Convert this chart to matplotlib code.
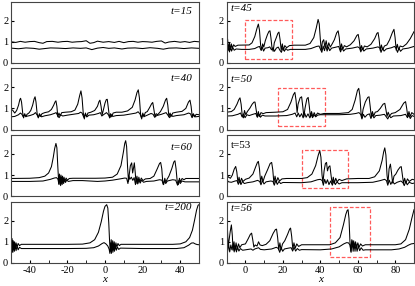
import numpy as np
import matplotlib
matplotlib.use("Agg")
import matplotlib.pyplot as plt
from matplotlib.patches import Rectangle

plt.rcParams["font.family"] = ["Liberation Serif", "DejaVu Serif"]
plt.rcParams["axes.unicode_minus"] = False

# ── Data: (x, y) knots per curve ─────────────────────────────────────────────
# A = upper curve (large pulses), B = lower curve

T15_A = [(-50, 1.0), (-47.5, 0.97), (-45, 1.02), (-42.5, 0.98), (-40, 1.01), (-37.5, 1.02),
         (-35, 0.96), (-33, 0.93), (-31, 1.01), (-28, 1.02), (-25, 0.98), (-22.5, 1.01),
         (-20, 1.02), (-17.5, 0.98), (-15, 1.0), (-12.5, 1.01), (-10, 1.05), (-8, 0.93),
         (-6, 0.96), (-4, 1.03), (-1, 0.98), (2, 1.01), (5, 0.97), (7.5, 1.02), (10, 0.96),
         (12.5, 1.01), (15, 1.02), (17.5, 0.98), (20, 1.01), (22.5, 1.0), (25, 0.98),
         (27.5, 1.02), (30, 1.04), (32, 0.94), (34, 0.99), (37, 1.02), (40, 0.98),
         (42.5, 1.01), (45, 0.97), (47.5, 1.02), (50, 1.0)]
T15_B = [(-50, 0.7), (-46, 0.67), (-42, 0.71), (-38, 0.69), (-35, 0.65), (-32, 0.68),
         (-29, 0.71), (-25, 0.7), (-21, 0.68), (-17, 0.71), (-13, 0.69), (-10, 0.71),
         (-7, 0.63), (-4, 0.7), (-1, 0.73), (2, 0.69), (5, 0.71), (9, 0.66), (12, 0.7),
         (16, 0.71), (20, 0.68), (24, 0.72), (28, 0.69), (31, 0.65), (34, 0.7), (38, 0.71),
         (42, 0.68), (46, 0.71), (50, 0.69)]

T40_A = [(-50, 0.97), (-49, 0.9), (-48, 0.78), (-47, 0.9), (-46, 1.15), (-45.3, 1.42),
         (-44.9, 1.48), (-44.4, 1.3), (-43.8, 0.8), (-43.3, 0.55), (-42.7, 0.75),
         (-42.1, 0.6), (-41.5, 0.72), (-40.5, 0.78), (-39.5, 0.9), (-38.5, 1.15),
         (-37.7, 1.45), (-37.2, 1.55), (-36.7, 1.3), (-36.1, 0.75), (-35.5, 0.55),
         (-34.9, 0.75), (-34.3, 0.62), (-33.5, 0.75), (-32, 0.8), (-30, 0.84), (-28.5, 0.95),
         (-27.3, 1.15), (-26.6, 1.3), (-26.1, 1.36), (-25.6, 1.1), (-25.1, 0.6),
         (-24.5, 0.78), (-23.9, 0.65), (-23, 0.8), (-21, 0.82), (-18, 0.84), (-16, 0.92),
         (-14.5, 1.2), (-13.5, 1.6), (-12.8, 1.83), (-12.2, 1.5), (-11.6, 0.8), (-11, 0.5),
         (-10.4, 0.78), (-9.8, 0.6), (-9.1, 0.78), (-7.5, 0.82), (-5.5, 0.9), (-4, 1.1),
         (-3.2, 1.32), (-2.7, 1.39), (-2.1, 1.1), (-1.5, 0.7), (-0.8, 0.95), (0, 1.25),
         (0.7, 1.42), (1.2, 1.43), (1.8, 1.0), (2.4, 0.55), (3, 0.75), (3.6, 0.6),
         (4.3, 0.78), (6, 0.82), (9, 0.82), (12, 0.88), (14.5, 1.05), (16, 1.4), (17, 1.75),
         (17.7, 1.88), (18.3, 1.5), (18.9, 0.75), (19.5, 0.5), (20.1, 0.78), (20.7, 0.6),
         (21.4, 0.8), (22.5, 0.85), (23.8, 1.05), (24.8, 1.22), (25.4, 1.28), (26, 0.95),
         (26.6, 0.6), (27.2, 0.75), (28, 0.7), (29.5, 0.85), (31, 1.1), (32.2, 1.4),
         (32.8, 1.48), (33.4, 1.15), (34, 0.6), (34.6, 0.78), (35.2, 0.62), (36, 0.78),
         (38, 0.82), (41, 0.86), (43, 1.0), (44.4, 1.3), (45.2, 1.39), (45.8, 1.1),
         (46.4, 0.6), (47, 0.75), (47.6, 0.6), (48.5, 0.72), (50, 0.7)]
T40_B = [(-50, 0.6), (-48, 0.62), (-46, 0.7), (-45, 0.78), (-44.2, 0.72), (-43.5, 0.6),
         (-42.8, 0.7), (-42, 0.62), (-40, 0.66), (-38, 0.72), (-37, 0.8), (-36.2, 0.7),
         (-35.4, 0.58), (-34.6, 0.7), (-33.8, 0.6), (-32, 0.65), (-29, 0.7), (-27, 0.76),
         (-26, 0.8), (-25.2, 0.66), (-24.4, 0.56), (-23.6, 0.7), (-22.5, 0.64), (-20, 0.68),
         (-17, 0.72), (-14, 0.76), (-13, 0.82), (-12.2, 0.78), (-11.3, 0.58), (-10.5, 0.72),
         (-9.6, 0.6), (-8.5, 0.68), (-6, 0.7), (-3.5, 0.76), (-2.5, 0.8), (-1.7, 0.64),
         (-0.5, 0.72), (0.8, 0.8), (1.8, 0.7), (2.6, 0.56), (3.4, 0.7), (4.2, 0.62),
         (6, 0.66), (10, 0.68), (14, 0.74), (16.5, 0.78), (17.6, 0.84), (18.6, 0.74),
         (19.4, 0.56), (20.2, 0.7), (21, 0.62), (22.5, 0.68), (24.5, 0.76), (25.6, 0.72),
         (26.4, 0.58), (27.5, 0.66), (30, 0.72), (32.5, 0.8), (33.6, 0.66), (34.4, 0.56),
         (35.2, 0.7), (36, 0.62), (38, 0.66), (42, 0.7), (44.5, 0.78), (45.5, 0.74),
         (46.3, 0.56), (47.2, 0.7), (48, 0.6), (50, 0.62)]

T60_A = [(-50, 0.84), (-40, 0.85), (-35, 0.88), (-32, 0.95), (-30, 1.1), (-28.5, 1.4),
         (-27.5, 1.85), (-26.8, 2.25), (-26.1, 2.5), (-25.6, 2.3), (-25.1, 1.4), (-24.6, 0.6),
         (-24.2, 1.05), (-23.8, 0.55), (-23.4, 1.0), (-23, 0.6), (-22.6, 0.95), (-22.2, 0.65),
         (-21.8, 0.9), (-21.3, 0.7), (-20.7, 0.86), (-20, 0.76), (-19, 0.84), (-17, 0.85),
         (-5, 0.85), (0, 0.86), (4, 0.9), (6.5, 1.05), (8.5, 1.45), (9.8, 2.1), (10.5, 2.5),
         (11.0, 2.63), (11.5, 2.35), (12, 1.4), (12.5, 0.7), (13, 1.1), (13.5, 1.45),
         (14.2, 1.58), (14.7, 1.1), (15.1, 1.3), (15.6, 1.58), (16.1, 1.1), (16.5, 0.6),
         (17, 0.95), (17.5, 0.62), (18, 0.9), (18.6, 0.68), (19.3, 0.86), (20.2, 0.74),
         (21.5, 0.82), (24, 0.84), (26, 0.95), (27.8, 1.3), (29, 1.55), (29.6, 1.6),
         (30.2, 1.3), (30.7, 0.7), (31.2, 0.55), (31.8, 0.85), (32.4, 0.65), (33, 0.8),
         (34, 0.95), (35.5, 1.3), (36.6, 1.62), (37.2, 1.68), (37.8, 1.3), (38.4, 0.7),
         (39, 0.55), (39.6, 0.85), (40.2, 0.68), (41, 0.84), (42, 0.78), (43, 0.84),
         (50, 0.84)]
T60_B = [(-50, 0.7), (-40, 0.7), (-33, 0.72), (-29, 0.8), (-27, 0.86), (-25.8, 0.88),
         (-25, 0.8), (-24.5, 0.55), (-24, 0.95), (-23.6, 0.5), (-23.2, 0.9), (-22.8, 0.55),
         (-22.4, 0.85), (-22, 0.6), (-21.5, 0.8), (-21, 0.65), (-20.4, 0.76), (-19.5, 0.7),
         (-17, 0.74), (-12, 0.74), (-8, 0.72), (-4, 0.7), (0, 0.72), (4, 0.76), (8, 0.82),
         (10.5, 0.86), (11.5, 0.85), (12.2, 0.6), (12.7, 0.95), (13.2, 0.8), (14, 0.9),
         (14.8, 0.75), (15.5, 0.88), (16.2, 0.55), (16.8, 0.85), (17.4, 0.58), (18, 0.8),
         (18.7, 0.62), (19.5, 0.76), (20.5, 0.66), (22, 0.7), (26, 0.72), (29, 0.78),
         (30.3, 0.76), (31, 0.55), (31.6, 0.75), (32.3, 0.6), (33.2, 0.72), (36, 0.78),
         (37.6, 0.76), (38.6, 0.52), (39.3, 0.75), (40, 0.6), (41, 0.72), (42.5, 0.68),
         (50, 0.68)]

T200_A = [(-50, 1.0), (-49.7, 0.55), (-49.4, 1.15), (-49.1, 0.6), (-48.8, 1.05), (-48.5, 0.65),
          (-48.1, 1.0), (-47.7, 0.7), (-47.3, 0.95), (-46.8, 0.75), (-46.2, 0.92), (-45.5, 0.82),
          (-44.5, 0.88), (-40, 0.88), (-20, 0.88), (-12, 0.89), (-8, 0.95), (-5.5, 1.1),
          (-3.5, 1.45), (-2, 1.95), (-0.8, 2.45), (0, 2.68), (0.9, 2.76), (1.5, 2.6), (2, 1.9),
          (2.5, 0.9), (2.9, 0.55), (3.3, 1.1), (3.7, 0.6), (4.1, 1.05), (4.5, 0.65), (4.9, 1.0),
          (5.3, 0.7), (5.8, 0.95), (6.3, 0.75), (6.9, 0.92), (7.6, 0.82), (8.5, 0.88), (20, 0.88),
          (36, 0.88), (40, 0.9), (43, 1.0), (45, 1.2), (46.5, 1.55), (47.7, 2.05), (48.7, 2.5),
          (49.5, 2.73), (50, 2.76)]
T200_B = [(-50, 0.9), (-49.6, 0.5), (-49.3, 1.05), (-49, 0.5), (-48.6, 0.95), (-48.2, 0.55),
          (-47.8, 0.85), (-47.3, 0.58), (-46.8, 0.8), (-46.2, 0.62), (-45.5, 0.74), (-44.5, 0.68),
          (-40, 0.68), (-20, 0.68), (-10, 0.69), (-6, 0.72), (-3.5, 0.8), (-1.5, 0.92),
          (-0.5, 0.96), (0.5, 0.9), (1.5, 0.8), (2.2, 0.65), (2.6, 0.45), (3, 0.95), (3.4, 0.45),
          (3.8, 0.9), (4.2, 0.5), (4.6, 0.85), (5, 0.55), (5.5, 0.8), (6, 0.6), (6.6, 0.75),
          (7.3, 0.64), (8.2, 0.7), (20, 0.68), (38, 0.68), (42, 0.72), (44.5, 0.84), (46, 0.94),
          (47, 0.95), (48, 0.9), (49, 0.87), (50, 0.86)]

T45_A = [(-10, 1.45), (-9.5, 1.1), (-9, 0.6), (-8.5, 0.95), (-8, 0.62), (-7.5, 0.9), (-7, 0.7),
         (-6.3, 0.86), (-5.5, 0.78), (-4, 0.84), (2, 0.85), (3.5, 0.95), (5, 1.25), (6.2, 1.65),
         (6.9, 1.84), (7.5, 1.55), (8.1, 0.85), (8.6, 0.6), (9.2, 0.9), (9.8, 0.75), (10.6, 1.05),
         (11.8, 1.35), (12.6, 1.5), (13.1, 1.52), (13.6, 1.2), (14.2, 0.7), (14.8, 0.55),
         (15.4, 0.95), (16.5, 1.2), (17.3, 1.4), (17.9, 1.46), (18.5, 1.1), (19.1, 0.6),
         (19.7, 0.9), (20.3, 0.6), (21, 0.82), (22, 0.72), (23.5, 0.82), (26, 0.84), (32, 0.84),
         (34.5, 0.92), (36.5, 1.2), (37.8, 1.65), (38.8, 2.06), (39.4, 1.85), (40, 1.1),
         (40.5, 0.6), (41.1, 1.0), (41.8, 1.1), (42.4, 0.75), (43.1, 1.05), (43.8, 0.7),
         (44.5, 0.95), (45.3, 0.75), (46.3, 0.9), (47.5, 1.1), (48.7, 1.42), (49.5, 1.52),
         (50.1, 1.2), (50.7, 0.62), (51.3, 0.9), (52, 0.65), (52.8, 0.82), (54, 0.76), (56, 0.86),
         (58, 1.05), (59.5, 1.3), (60.2, 1.35), (60.8, 1.05), (61.4, 0.6), (62, 0.82),
         (62.7, 0.62), (63.5, 0.8), (65, 0.76), (67, 0.88), (69, 1.15), (70.2, 1.4), (70.8, 1.44),
         (71.4, 1.1), (72, 0.58), (72.6, 0.85), (73.3, 0.62), (74.2, 0.8), (75.5, 0.85),
         (77, 1.1), (78.5, 1.45), (79.3, 1.59), (79.9, 1.2), (80.5, 0.6), (81.1, 0.88),
         (81.8, 0.62), (82.6, 0.8), (84, 0.76), (86, 0.9), (88, 1.15), (90, 1.48)]
T45_B = [(-10, 0.9), (-9.5, 0.55), (-9, 0.85), (-8.5, 0.52), (-8, 0.78), (-7.4, 0.56),
         (-6.7, 0.72), (-6, 0.6), (-5, 0.66), (-2, 0.64), (2, 0.64), (5, 0.68), (6.5, 0.75),
         (7.5, 0.78), (8.3, 0.6), (9, 0.75), (9.7, 0.56), (10.5, 0.7), (12, 0.72), (13, 0.76),
         (13.9, 0.62), (14.7, 0.72), (15.5, 0.55), (16.5, 0.7), (17.5, 0.75), (18.4, 0.6),
         (19.2, 0.5), (20, 0.72), (20.8, 0.55), (21.6, 0.68), (22.5, 0.6), (24, 0.64), (32, 0.64),
         (35, 0.68), (38, 0.78), (39.3, 0.8), (40.2, 0.62), (40.8, 0.5), (41.5, 0.8), (42.2, 0.58),
         (42.9, 0.82), (43.6, 0.56), (44.3, 0.75), (45, 0.58), (46, 0.7), (48, 0.74), (49.8, 0.78),
         (50.8, 0.52), (51.6, 0.72), (52.4, 0.56), (53.5, 0.66), (57, 0.7), (60, 0.76), (61, 0.7),
         (61.6, 0.52), (62.4, 0.7), (63.2, 0.56), (64.5, 0.66), (68, 0.7), (70.8, 0.76),
         (71.8, 0.7), (72.4, 0.5), (73.2, 0.7), (74, 0.56), (75.2, 0.66), (78, 0.72), (79.6, 0.78),
         (80.5, 0.68), (81.2, 0.5), (82, 0.7), (82.8, 0.55), (84, 0.66), (87, 0.7), (90, 0.78)]

T50_A = [(-10, 0.82), (-7.5, 0.85), (-6, 0.95), (-4.5, 1.2), (-3.5, 1.42), (-2.9, 1.5),
         (-2.3, 1.2), (-1.7, 0.65), (-1.1, 0.55), (-0.5, 0.9), (0.2, 0.7), (1, 0.85), (2.3, 1.0),
         (3.6, 1.2), (4.6, 1.3), (5.1, 1.3), (5.7, 0.95), (6.3, 0.6), (6.9, 0.85), (7.5, 0.62),
         (8.3, 0.8), (9.5, 0.75), (11, 0.8), (16, 0.82), (20, 0.84), (22.5, 0.95), (24.3, 1.3),
         (25.6, 1.65), (26.4, 1.76), (27, 1.4), (27.6, 0.8), (28.1, 1.2), (29.2, 1.5), (30, 1.55),
         (30.6, 1.1), (31.2, 0.6), (31.8, 1.0), (32.8, 1.45), (33.5, 1.52), (34.1, 1.1),
         (34.7, 0.6), (35.3, 0.85), (36, 0.6), (36.7, 0.8), (37.5, 0.64), (38.5, 0.78), (40, 0.72),
         (42, 0.76), (50, 0.76), (55, 0.8), (57, 0.95), (58.6, 1.4), (59.8, 1.85), (60.5, 1.95),
         (61.1, 1.6), (61.7, 0.8), (62.2, 0.55), (62.8, 0.95), (64, 1.3), (65.3, 1.52), (66, 1.55),
         (66.6, 1.1), (67.2, 0.6), (67.8, 0.85), (68.5, 0.64), (69.3, 0.82), (70.5, 0.85),
         (72, 1.0), (73.5, 1.2), (74.4, 1.24), (75, 0.95), (75.6, 0.62), (76.2, 0.82), (77, 0.64),
         (78, 0.76), (80, 0.8), (82.5, 0.95), (84.5, 1.25), (85.5, 1.32), (86.1, 1.0), (86.7, 0.6),
         (87.3, 0.85), (88, 0.62), (88.8, 0.8), (90, 0.72)]
T50_B = [(-10, 0.64), (-7, 0.65), (-4, 0.72), (-2.6, 0.78), (-1.8, 0.6), (-1, 0.74), (-0.2, 0.56),
         (0.8, 0.7), (2, 0.66), (4, 0.72), (5.5, 0.76), (6.4, 0.58), (7.2, 0.72), (8, 0.58),
         (9, 0.68), (10.5, 0.64), (16, 0.64), (22, 0.66), (25, 0.72), (26.5, 0.78), (27.4, 0.6),
         (28.2, 0.78), (29, 0.6), (30, 0.75), (30.8, 0.55), (31.6, 0.78), (32.4, 0.58), (33.4, 0.74),
         (34.4, 0.55), (35.1, 0.72), (35.8, 0.56), (36.6, 0.7), (37.5, 0.6), (38.5, 0.68),
         (40, 0.7), (50, 0.7), (56, 0.72), (59, 0.76), (60.6, 0.8), (61.5, 0.72), (62.2, 0.5),
         (63, 0.72), (63.8, 0.58), (65, 0.7), (66.2, 0.74), (67, 0.52), (67.8, 0.7), (68.6, 0.55),
         (69.6, 0.66), (72, 0.68), (74.2, 0.72), (75.2, 0.6), (76, 0.5), (76.8, 0.66), (77.6, 0.56),
         (79, 0.64), (83, 0.66), (85.5, 0.72), (86.5, 0.56), (87.2, 0.7), (88, 0.52), (89, 0.66),
         (90, 0.62)]

T53_A = [(-10, 1.02), (-9, 0.9), (-8, 0.85), (-7, 1.0), (-6, 1.28), (-5.2, 1.41), (-4.6, 1.15),
         (-4, 0.65), (-3.4, 0.9), (-2.8, 0.62), (-2.1, 0.85), (-1.3, 0.7), (0, 0.8), (2, 0.86),
         (4, 1.05), (5.5, 1.4), (6.4, 1.6), (6.9, 1.65), (7.5, 1.3), (8.1, 0.65), (8.7, 0.95),
         (9.4, 0.7), (10.3, 0.95), (11.8, 1.25), (13.2, 1.55), (14, 1.6), (14.6, 1.25), (15.2, 0.62),
         (15.8, 0.95), (16.5, 0.66), (17.3, 0.88), (18.2, 0.72), (19.5, 0.82), (22, 0.84),
         (30, 0.84), (33, 0.88), (35.5, 1.05), (37.5, 1.45), (38.9, 1.95), (39.7, 2.16),
         (40.3, 1.85), (40.9, 1.0), (41.4, 0.65), (42, 1.2), (42.7, 1.55), (43.3, 1.6), (43.8, 1.2),
         (44.4, 1.38), (45.1, 1.44), (45.7, 1.0), (46.3, 0.6), (46.9, 0.9), (47.5, 0.62),
         (48.2, 0.85), (49, 0.68), (50, 0.8), (51.5, 0.74), (54, 0.82), (60, 0.84), (66, 0.84),
         (69, 0.92), (71.5, 1.2), (73, 1.7), (73.8, 2.1), (74.4, 2.29), (75, 1.95), (75.6, 1.0),
         (76.1, 0.62), (76.7, 1.3), (77.4, 1.52), (78, 1.1), (78.6, 0.62), (79.3, 0.95),
         (80.3, 1.05), (81.5, 1.25), (82.6, 1.38), (83.2, 1.4), (83.8, 1.0), (84.4, 0.6),
         (85, 0.85), (85.7, 0.62), (86.5, 0.82), (87.5, 0.7), (89, 0.8), (90, 0.78)]
T53_B = [(-10, 0.78), (-9, 0.68), (-7.5, 0.66), (-5.5, 0.72), (-4.5, 0.74), (-3.8, 0.56),
         (-3.1, 0.74), (-2.4, 0.55), (-1.6, 0.7), (-0.6, 0.6), (1, 0.64), (4, 0.68), (6.5, 0.75),
         (7.6, 0.7), (8.3, 0.54), (9.1, 0.74), (9.9, 0.58), (11, 0.68), (13.5, 0.72), (14.7, 0.7),
         (15.4, 0.52), (16.2, 0.74), (17, 0.56), (17.9, 0.7), (18.8, 0.6), (20, 0.65), (30, 0.64),
         (35, 0.68), (38.5, 0.78), (40, 0.8), (41, 0.74), (41.6, 0.52), (42.3, 0.8), (43, 0.6),
         (43.8, 0.78), (44.6, 0.55), (45.5, 0.72), (46.4, 0.52), (47.2, 0.72), (48, 0.55),
         (48.9, 0.68), (50, 0.58), (51.5, 0.64), (60, 0.64), (68, 0.66), (72, 0.74), (74.3, 0.8),
         (75.3, 0.74), (76, 0.52), (76.8, 0.76), (77.6, 0.56), (78.5, 0.72), (79.5, 0.58),
         (81, 0.66), (83, 0.72), (84.1, 0.64), (84.8, 0.5), (85.6, 0.7), (86.4, 0.54), (87.4, 0.66),
         (89, 0.6), (90, 0.62)]

T56_A = [(-10, 2.44), (-9.6, 1.6), (-9.2, 0.75), (-8.7, 1.1), (-8.1, 1.5), (-7.5, 1.8), (-7, 1.3),
         (-6.6, 0.6), (-6.1, 1.0), (-5.6, 0.6), (-5, 0.95), (-4.4, 0.65), (-3.7, 0.9), (-3, 0.72),
         (-2, 0.86), (0, 0.9), (1.5, 1.15), (2.6, 1.35), (3.3, 1.41), (3.9, 1.1), (4.5, 0.75),
         (5.2, 0.85), (6.2, 0.8), (7, 1.0), (7.8, 0.85), (9, 0.82), (11, 0.88), (13, 1.05),
         (14.8, 1.4), (16, 1.58), (16.6, 1.6), (17.2, 1.2), (17.8, 0.62), (18.4, 0.95), (19, 0.62),
         (19.8, 0.9), (21, 1.05), (22.5, 1.35), (23.6, 1.6), (24.1, 1.65), (24.7, 1.25),
         (25.3, 0.65), (25.9, 0.95), (26.6, 0.7), (27.4, 0.9), (28.4, 0.78), (30, 0.86), (45, 0.86),
         (48, 0.95), (50.5, 1.2), (52.3, 1.8), (53.6, 2.3), (54.3, 2.48), (54.8, 2.52), (55.3, 2.1),
         (55.8, 1.0), (56.3, 0.55), (56.8, 1.1), (57.3, 0.75), (57.8, 1.05), (58.3, 0.7),
         (58.8, 1.0), (59.4, 0.72), (60, 0.95), (60.7, 0.75), (61.5, 0.9), (62.5, 0.8), (64, 0.86),
         (80, 0.86), (83, 0.9), (85.5, 1.1), (87.5, 1.6), (88.8, 2.1), (90, 2.52)]
T56_B = [(-10, 1.0), (-9.5, 0.55), (-9, 0.9), (-8.4, 0.52), (-7.8, 0.85), (-7.2, 0.62), (-6.6, 0.9),
         (-6, 0.52), (-5.4, 0.8), (-4.8, 0.52), (-4.2, 0.75), (-3.5, 0.56), (-2.7, 0.68),
         (-1.5, 0.6), (0, 0.62), (3, 0.66), (4, 0.6), (5, 0.66), (7, 0.72), (8, 0.64), (10, 0.62),
         (14, 0.66), (16.5, 0.74), (17.6, 0.68), (18.3, 0.5), (19.1, 0.72), (19.9, 0.55),
         (20.8, 0.66), (23, 0.7), (24.4, 0.72), (25.2, 0.56), (26, 0.74), (26.8, 0.56), (27.7, 0.68),
         (28.8, 0.6), (30, 0.63), (40, 0.62), (46, 0.66), (50, 0.76), (52.5, 0.9), (54, 0.96),
         (55, 0.95), (55.8, 0.85), (56.4, 0.5), (57, 1.05), (57.5, 0.55), (58, 0.95), (58.5, 0.55),
         (59, 0.88), (59.6, 0.55), (60.3, 0.8), (61, 0.58), (61.8, 0.72), (62.8, 0.6), (64, 0.62),
         (78, 0.62), (82, 0.66), (85, 0.74), (87, 0.84), (88.5, 0.9), (90, 0.92)]

# dashed boxes (x0, x1, y0, y1) on the right column
BOX_45 = (0, 25, 0.2, 2.03)
BOX_50 = (17.5, 42.5, 0.15, 1.95)
BOX_53 = (30.3, 54.8, 0.37, 2.2)
BOX_56 = (45.2, 66.7, 0.27, 2.66)

LEFT_TICKS = [-40, -20, 0, 20, 40]
LEFT_MINOR = [-30, -10, 10, 30]
RIGHT_TICKS = [0, 20, 40, 60, 80]
RIGHT_MINOR = [10, 30, 50, 70]

# (curve A, curve B, label, italic, label y, box)
LEFT = [(T15_A, T15_B, "t=15", True, 0.84, None),
        (T40_A, T40_B, "t=40", True, 0.83, None),
        (T60_A, T60_B, "t=60", True, 0.80, None),
        (T200_A, T200_B, "t=200", True, 0.91, None)]
RIGHT = [(T45_A, T45_B, "t=45", True, 0.89, BOX_45),
         (T50_A, T50_B, "t=50", True, 0.82, BOX_50),
         (T53_A, T53_B, "t=53", False, 0.83, BOX_53),
         (T56_A, T56_B, "t=56", True, 0.89, BOX_56)]

W, H = 415, 286
fig = plt.figure(figsize=(W / 100, H / 100), dpi=100)
row_tops = [1.7, 68.3, 135.0, 201.7]
row_h = 61.2
cols = [(11.0, 188.0, (-50, 50), LEFT_TICKS, LEFT_MINOR, LEFT),
        (226.7, 187.3, (-10, 90), RIGHT_TICKS, RIGHT_MINOR, RIGHT)]

for ci, (x0, w, xlim, ticks, minor, panels) in enumerate(cols):
    for ri, (ca, cb, label, ital, ly, box) in enumerate(panels):
        top = row_tops[ri]
        ax = fig.add_axes([x0 / W, 1 - (top + row_h) / H, w / W, row_h / H])
        for curve in (ca, cb):
            xs, ys = np.array(curve).T
            ax.plot(xs, ys, color="black", lw=0.75)
        if box is not None:
            bx0, bx1, by0, by1 = box
            ax.add_patch(Rectangle((bx0, by0), bx1 - bx0, by1 - by0, fill=False,
                                   edgecolor="#ff5a5a", lw=0.9, ls=(0, (3, 1.5))))
        ax.set_xlim(*xlim)
        ax.set_ylim(0, 2.9)
        ax.set_yticks([0, 1, 2])
        ax.tick_params(axis="y", direction="in", length=2.5, labelsize=7.5, pad=2)
        if ri == 3:
            ax.set_xticks(ticks)
            ax.set_xticks(minor, minor=True)
            ax.tick_params(axis="x", which="both", direction="in", length=2.5,
                           labelsize=7.5, pad=2)
            ax.set_xlabel("x", fontsize=8, style="italic", labelpad=0)
        else:
            ax.set_xticks([])
        for s in ax.spines.values():
            s.set_color("#444444")
            s.set_linewidth(0.8)
        style = "italic" if ital else "normal"
        if ci == 0:
            ax.text(0.965, ly, label, transform=ax.transAxes, ha="right", va="center",
                    fontsize=8, style=style)
        else:
            ax.text(0.02, ly, label, transform=ax.transAxes, ha="left", va="center",
                    fontsize=8, style=style)

fig.savefig("out.png", dpi=100)
